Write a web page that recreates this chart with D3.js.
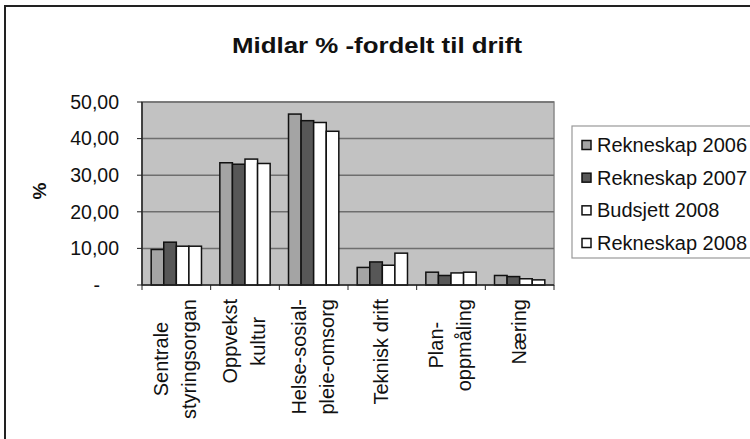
<!DOCTYPE html>
<html>
<head>
<meta charset="utf-8">
<script src="https://cdn.jsdelivr.net/npm/d3@7.9.0/dist/d3.min.js"></script>
<style>
  html, body { margin: 0; padding: 0; background: #fff; }
  svg { display: block; font-family: "Liberation Sans", Arial, sans-serif; }
</style>
</head>
<body>
<svg id="chart" width="750" height="439"></svg>
<script>
const categories = [
  ['Sentrale', 'styringsorgan'],
  ['Oppvekst', 'kultur'],
  ['Helse-sosial-', 'pleie-omsorg'],
  ['Teknisk drift'],
  ['Plan-', 'oppmåling'],
  ['Næring']
];
const seriesNames = ['Rekneskap 2006', 'Rekneskap 2007', 'Budsjett 2008', 'Rekneskap 2008'];
const rekneskap2006 = [9.7, 33.4, 46.7, 4.8, 3.5, 2.6];
const rekneskap2007 = [11.7, 33.0, 44.9, 6.3, 2.6, 2.3];
const budsjett2008 = [10.6, 34.4, 44.4, 5.4, 3.3, 1.7];
const rekneskap2008 = [10.6, 33.2, 42.0, 8.7, 3.5, 1.4];
const yTicks = [0, 10, 20, 30, 40, 50];
const yTickLabels = ['-', '10,00', '20,00', '30,00', '40,00', '50,00'];

const seriesValues = [rekneskap2006, rekneskap2007, budsjett2008, rekneskap2008];
const colors = ['#a4a4a4', '#575757', '#ffffff', '#ffffff'];

const svg = d3.select('#chart');

// outer frame (runs off the right/bottom edge like the scan)
svg.append('rect')
  .attr('x', 5).attr('y', 6)
  .attr('width', 800).attr('height', 500)
  .attr('fill', 'none')
  .attr('stroke', '#222')
  .attr('stroke-width', 2);

svg.append('text')
  .attr('x', 232).attr('y', 53)
  .attr('font-size', 22)
  .attr('font-weight', 'bold')
  .attr('fill', '#111')
  .attr('textLength', 290)
  .attr('lengthAdjust', 'spacingAndGlyphs')
  .text('Midlar % -fordelt til drift');

const plotLeft = 142, plotRight = 554, plotTop = 102, plotBottom = 285;

const x = d3.scaleBand()
  .domain(d3.range(categories.length))
  .range([plotLeft, plotRight]);

const xSub = d3.scaleBand()
  .domain(d3.range(seriesNames.length))
  .range([0, x.bandwidth()])
  .paddingOuter(0.73);

const y = d3.scaleLinear().domain([0, 50]).range([plotBottom, plotTop]);

// plot area
svg.append('rect')
  .attr('x', plotLeft).attr('y', plotTop)
  .attr('width', plotRight - plotLeft).attr('height', plotBottom - plotTop)
  .attr('fill', '#c2c2c2')
  .attr('stroke', '#8a8a8a')
  .attr('stroke-width', 1.5);

svg.append('g')
  .selectAll('line')
  .data(yTicks.slice(1))
  .join('line')
  .attr('x1', plotLeft).attr('x2', plotRight)
  .attr('y1', (d) => y(d)).attr('y2', (d) => y(d))
  .attr('stroke', '#6e6e6e')
  .attr('stroke-width', 1.5);

// bars
const groups = svg.append('g')
  .selectAll('g')
  .data(categories.map((c, i) => i))
  .join('g')
  .attr('transform', (i) => `translate(${x(i)},0)`);

groups.selectAll('rect')
  .data((i) => seriesValues.map((vals, s) => ({ s, v: vals[i] })))
  .join('rect')
  .attr('x', (d) => xSub(d.s))
  .attr('width', xSub.bandwidth())
  .attr('y', (d) => y(d.v))
  .attr('height', (d) => y(0) - y(d.v))
  .attr('fill', (d) => colors[d.s])
  .attr('stroke', '#111')
  .attr('stroke-width', 1.5);

// axes
const yAxis = svg.append('g').attr('transform', `translate(${plotLeft},0)`);
yAxis.append('line')
  .attr('y1', plotTop).attr('y2', plotBottom)
  .attr('stroke', '#222').attr('stroke-width', 1.5);
yAxis.selectAll('.tick')
  .data(yTicks)
  .join('line')
  .attr('class', 'tick')
  .attr('x1', -5).attr('x2', 0)
  .attr('y1', (d) => y(d)).attr('y2', (d) => y(d))
  .attr('stroke', '#222');
yAxis.selectAll('text')
  .data(yTicks)
  .join('text')
  .attr('x', (d, i) => (i === 0 ? -42 : -23))
  .attr('y', (d) => y(d))
  .attr('dy', '0.35em')
  .attr('text-anchor', 'end')
  .attr('font-size', 19.5)
  .attr('fill', '#111')
  .text((d, i) => yTickLabels[i]);

svg.append('text')
  .attr('transform', 'translate(46,191) rotate(-90)')
  .attr('text-anchor', 'middle')
  .attr('font-size', 19)
  .attr('font-weight', 'bold')
  .attr('fill', '#111')
  .text('%');

const xAxis = svg.append('g');
xAxis.append('line')
  .attr('x1', plotLeft).attr('x2', plotRight)
  .attr('y1', plotBottom).attr('y2', plotBottom)
  .attr('stroke', '#222').attr('stroke-width', 1.5);
xAxis.selectAll('.tick')
  .data(d3.range(categories.length + 1))
  .join('line')
  .attr('class', 'tick')
  .attr('x1', (i) => plotLeft + i * x.step()).attr('x2', (i) => plotLeft + i * x.step())
  .attr('y1', plotBottom).attr('y2', plotBottom + 5)
  .attr('stroke', '#222');

// rotated category labels: lines centred on each other, block ends at the axis
const labelTop = 299;
const lineGap = 28;
categories.forEach((lines, i) => {
  const g = xAxis.append('g')
    .attr('transform', `translate(${x(i) + x.bandwidth() / 2 - 1},${labelTop}) rotate(-90)`);
  const texts = g.selectAll('text')
    .data(lines)
    .join('text')
    .attr('y', (d, k) => (k - (lines.length - 1) / 2) * lineGap)
    .attr('dy', '0.35em')
    .attr('text-anchor', 'middle')
    .attr('font-size', 20)
    .attr('fill', '#111')
    .text((d) => d);
  const maxLen = d3.max(texts.nodes(), (n) => n.getComputedTextLength());
  texts.attr('x', -maxLen / 2);
});

// legend
const legend = svg.append('g');
legend.append('rect')
  .attr('x', 572).attr('y', 126)
  .attr('width', 200).attr('height', 132)
  .attr('fill', '#fff')
  .attr('stroke', '#999')
  .attr('stroke-width', 1.2);

const ly = d3.scalePoint()
  .domain(d3.range(seriesNames.length))
  .range([145, 243]);

const items = legend.selectAll('g')
  .data(seriesNames)
  .join('g')
  .attr('transform', (d, i) => `translate(0,${ly(i)})`);
items.append('rect')
  .attr('x', 582).attr('y', -4.5)
  .attr('width', 9).attr('height', 9)
  .attr('fill', (d, i) => colors[i])
  .attr('stroke', '#111')
  .attr('stroke-width', 1.5);
items.append('text')
  .attr('x', 597)
  .attr('dy', '0.35em')
  .attr('font-size', 20)
  .attr('fill', '#111')
  .text((d) => d);
</script>
</body>
</html>
